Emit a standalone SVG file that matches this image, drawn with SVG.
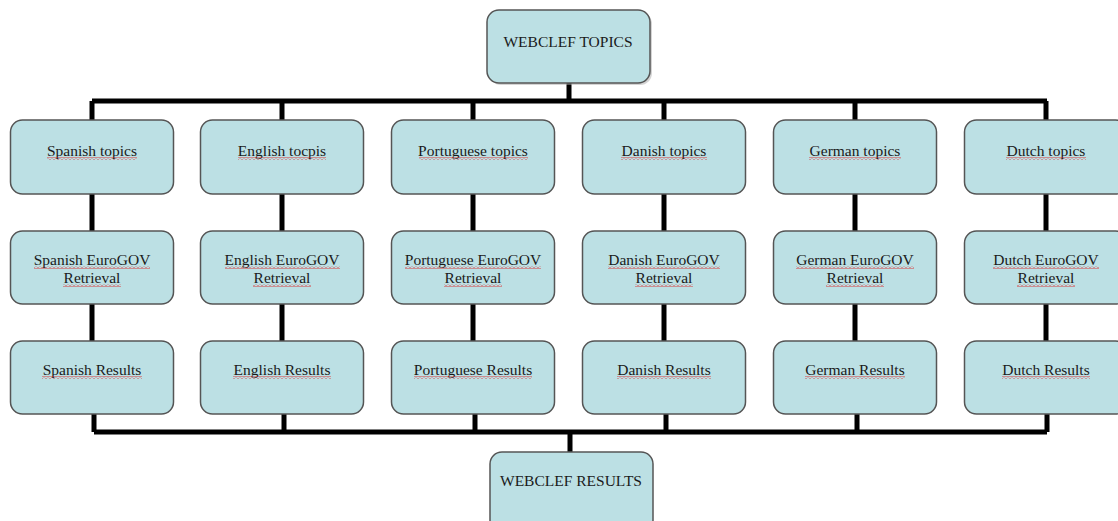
<svg xmlns="http://www.w3.org/2000/svg" width="1118" height="521" viewBox="0 0 1118 521">
<defs>
<pattern id="wave" patternUnits="userSpaceOnUse" width="4" height="3">
<polyline points="0,2.5 2,0.5 4,2.5" fill="none" stroke="#e01010" stroke-width="0.8"/>
</pattern>
</defs>
<style>
.box{fill:#bce0e4;stroke:#555;stroke-width:1.5}
.sh{fill:#aaa;opacity:0.5}
.t{font-family:"Liberation Serif","Times New Roman",serif;font-size:15.5px;fill:#1a1a1a;text-anchor:middle}
.w{fill:url(#wave)}
.c{fill:none;stroke:#000;stroke-width:5}
</style>
<rect width="1118" height="521" fill="#fff"/>
<g id="connectors">
<path class="c" d="M569,83V101M92,101H1047M92,101V120M282,101V120M473,101V120M664,101V120M855,101V120M1046,101V120"/>
<path class="c" d="M92,194V231M282,194V231M473,194V231M664,194V231M855,194V231M1046,194V231"/>
<path class="c" d="M92,304V341M282,304V341M473,304V341M664,304V341M855,304V341M1046,304V341"/>
<path class="c" d="M94,414V432M284,414V432M475,414V432M666,414V432M857,414V432M1047,414V432M94,432H1047M570,432V452"/>
</g>
<g id="top"><rect class="sh" x="489" y="12" width="163" height="73" rx="12"/><rect class="box" x="487" y="10" width="163" height="73" rx="12"/><text class="t" x="568" y="47">WEBCLEF TOPICS</text></g>
<g id="spanish-topics"><rect class="box" x="10.5" y="120" width="163" height="74" rx="12"/><text class="t" x="92" y="156">Spanish topics</text><rect class="w" x="47" y="157" width="90" height="3"/></g>
<g id="english-topics"><rect class="box" x="200.5" y="120" width="163" height="74" rx="12"/><text class="t" x="282" y="156">English tocpis</text><rect class="w" x="238" y="157" width="88" height="3"/></g>
<g id="portuguese-topics"><rect class="box" x="391.5" y="120" width="163" height="74" rx="12"/><text class="t" x="473" y="156">Portuguese topics</text><rect class="w" x="419" y="157" width="109" height="3"/></g>
<g id="danish-topics"><rect class="box" x="582.5" y="120" width="163" height="74" rx="12"/><text class="t" x="664" y="156">Danish topics</text><rect class="w" x="621" y="157" width="86" height="3"/></g>
<g id="german-topics"><rect class="box" x="773.5" y="120" width="163" height="74" rx="12"/><text class="t" x="855" y="156">German topics</text><rect class="w" x="809" y="157" width="92" height="3"/></g>
<g id="dutch-topics"><rect class="box" x="964.5" y="120" width="163" height="74" rx="12"/><text class="t" x="1046" y="156">Dutch topics</text><rect class="w" x="1006" y="157" width="80" height="3"/></g>
<g id="spanish-retrieval"><rect class="box" x="10.5" y="231" width="163" height="73" rx="12"/><text class="t" x="92" y="265">Spanish EuroGOV</text><text class="t" x="92" y="283">Retrieval</text><rect class="w" x="34" y="266" width="116" height="3"/><rect class="w" x="63" y="284" width="58" height="3"/></g>
<g id="english-retrieval"><rect class="box" x="200.5" y="231" width="163" height="73" rx="12"/><text class="t" x="282" y="265">English EuroGOV</text><text class="t" x="282" y="283">Retrieval</text><rect class="w" x="225" y="266" width="115" height="3"/><rect class="w" x="253" y="284" width="58" height="3"/></g>
<g id="portuguese-retrieval"><rect class="box" x="391.5" y="231" width="163" height="73" rx="12"/><text class="t" x="473" y="265">Portuguese EuroGOV</text><text class="t" x="473" y="283">Retrieval</text><rect class="w" x="405" y="266" width="136" height="3"/><rect class="w" x="444" y="284" width="58" height="3"/></g>
<g id="danish-retrieval"><rect class="box" x="582.5" y="231" width="163" height="73" rx="12"/><text class="t" x="664" y="265">Danish EuroGOV</text><text class="t" x="664" y="283">Retrieval</text><rect class="w" x="608" y="266" width="112" height="3"/><rect class="w" x="635" y="284" width="58" height="3"/></g>
<g id="german-retrieval"><rect class="box" x="773.5" y="231" width="163" height="73" rx="12"/><text class="t" x="855" y="265">German EuroGOV</text><text class="t" x="855" y="283">Retrieval</text><rect class="w" x="796" y="266" width="118" height="3"/><rect class="w" x="826" y="284" width="58" height="3"/></g>
<g id="dutch-retrieval"><rect class="box" x="964.5" y="231" width="163" height="73" rx="12"/><text class="t" x="1046" y="265">Dutch EuroGOV</text><text class="t" x="1046" y="283">Retrieval</text><rect class="w" x="993" y="266" width="106" height="3"/><rect class="w" x="1017" y="284" width="58" height="3"/></g>
<g id="spanish-results"><rect class="box" x="10.5" y="341" width="163" height="73" rx="12"/><text class="t" x="92" y="375">Spanish Results</text><rect class="w" x="42" y="376" width="100" height="3"/></g>
<g id="english-results"><rect class="box" x="200.5" y="341" width="163" height="73" rx="12"/><text class="t" x="282" y="375">English Results</text><rect class="w" x="233" y="376" width="98" height="3"/></g>
<g id="portuguese-results"><rect class="box" x="391.5" y="341" width="163" height="73" rx="12"/><text class="t" x="473" y="375">Portuguese Results</text><rect class="w" x="414" y="376" width="118" height="3"/></g>
<g id="danish-results"><rect class="box" x="582.5" y="341" width="163" height="73" rx="12"/><text class="t" x="664" y="375">Danish Results</text><rect class="w" x="617" y="376" width="94" height="3"/></g>
<g id="german-results"><rect class="box" x="773.5" y="341" width="163" height="73" rx="12"/><text class="t" x="855" y="375">German Results</text><rect class="w" x="805" y="376" width="100" height="3"/></g>
<g id="dutch-results"><rect class="box" x="964.5" y="341" width="163" height="73" rx="12"/><text class="t" x="1046" y="375">Dutch Results</text><rect class="w" x="1002" y="376" width="88" height="3"/></g>
<g id="bottom"><rect class="box" x="490" y="452" width="163" height="80" rx="12"/><text class="t" x="571" y="486">WEBCLEF RESULTS</text></g>
</svg>
